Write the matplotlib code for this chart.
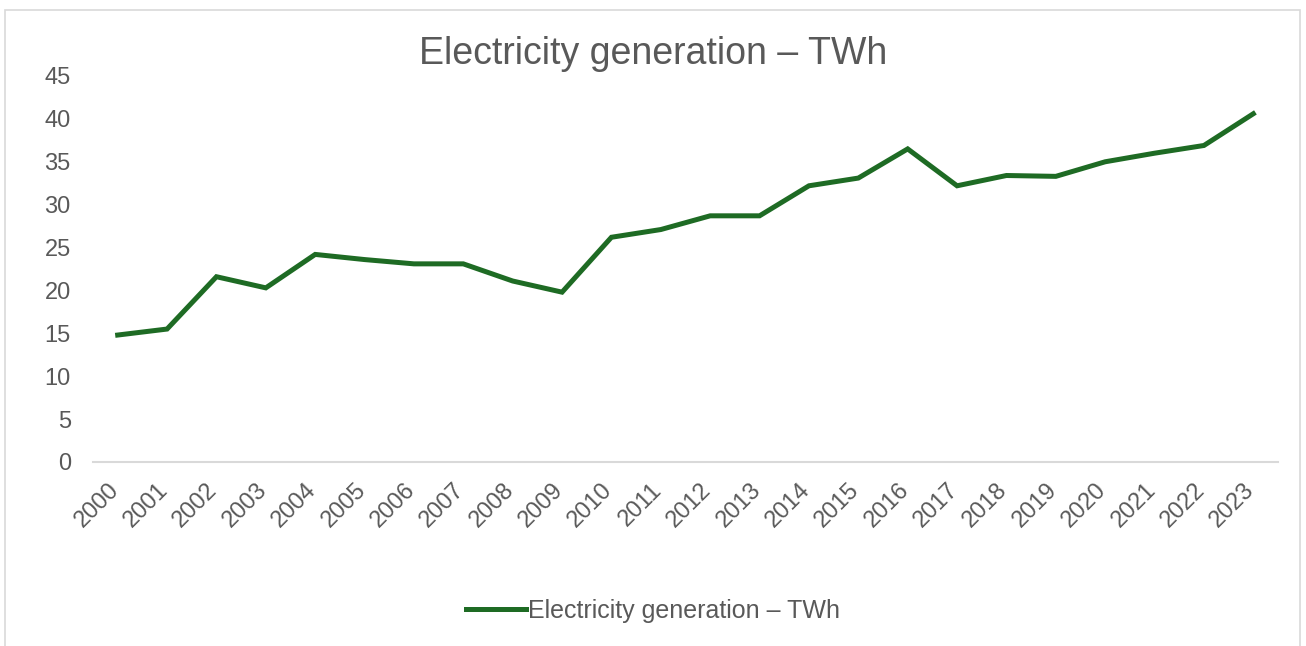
import matplotlib.pyplot as plt
from matplotlib.patches import Rectangle
from matplotlib.transforms import ScaledTranslation
from matplotlib import font_manager

# ── Data ──────────────────────────────────────────────────────────────────────
years = [str(y) for y in range(2000, 2024)]
generation_twh = [14.8, 15.5, 21.6, 20.3, 24.2, 23.6, 23.1, 23.1, 21.1, 19.8,
                  26.2, 27.1, 28.7, 28.7, 32.2, 33.1, 36.5, 32.2, 33.4, 33.3,
                  35.0, 36.0, 36.9, 40.6]
series_name = "Electricity generation – TWh"

GREEN = '#1e6b24'
TEXT = '#595959'
plt.rcParams['font.family'] = ['Liberation Sans', 'DejaVu Sans']

names = {f.name for f in font_manager.fontManager.ttflist}
narrow = 'Liberation Sans Narrow' if 'Liberation Sans Narrow' in names else 'Liberation Sans'

fig = plt.figure(figsize=(13.06, 6.46), dpi=100)
fig.patches.append(Rectangle((5 / 1306, -0.05), 1295 / 1306, 1.05 - 10 / 646,
                             transform=fig.transFigure, fill=False,
                             edgecolor='#d9d9d9', linewidth=1.2))

ax = fig.add_axes([93 / 1306, 1 - 462 / 646, 1185 / 1306, 386 / 646])
x = range(len(years))
ax.plot(x, generation_twh, color=GREEN, linewidth=3.6,
        solid_joinstyle='miter', label=series_name)

ax.set_xlim(-0.5, len(years) - 0.5)
ax.set_ylim(0, 45)
ax.set_yticks(range(0, 46, 5))
ax.set_xticks(list(x))
ax.set_xticklabels(years, rotation=45, ha='right', va='top',
                   rotation_mode='anchor', family=narrow)
ax.tick_params(length=0, colors=TEXT)
ax.tick_params(axis='y', pad=16, labelsize=17)
ax.tick_params(axis='x', pad=8, labelsize=19 if narrow != 'Liberation Sans' else 17)
shift = ScaledTranslation(-10 / 100, -6 / 100, fig.dpi_scale_trans)
for lbl in ax.get_xticklabels():
    lbl.set_transform(lbl.get_transform() + shift)

for s in ['top', 'right', 'left']:
    ax.spines[s].set_visible(False)
ax.spines['bottom'].set_color('#d9d9d9')
ax.spines['bottom'].set_linewidth(1.5)

fig.text(0.5, 1 - 54 / 646, series_name, ha='center', va='center',
         fontsize=27, color=TEXT)

leg = fig.legend(loc='center', bbox_to_anchor=(0.5, 1 - 611 / 646),
                 frameon=False, fontsize=18, handlelength=2.4,
                 handletextpad=0.1)
for t in leg.get_texts():
    t.set_color(TEXT)

fig.savefig('out.png', dpi=100)
